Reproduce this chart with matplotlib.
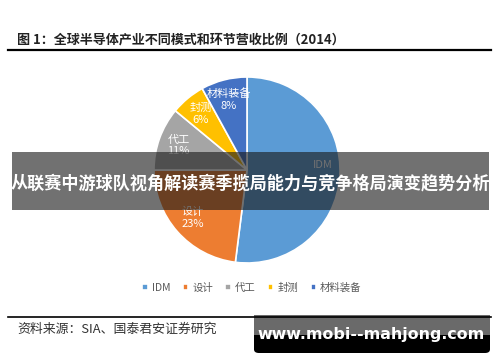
import matplotlib

matplotlib.use("Agg")
import matplotlib.pyplot as plt
from matplotlib.patches import FancyBboxPatch, Rectangle

plt.rcParams["font.family"] = ["Noto Sans CJK SC", "DejaVu Sans"]

W, H = 500, 362

# data
segments = ["IDM", "设计", "代工", "封测", "材料装备"]
shares = [52, 23, 11, 6, 8]
colors = ["#5b9bd5", "#ed7d31", "#a5a5a5", "#ffc000", "#4472c4"]

title = "图 1：全球半导体产业不同模式和环节营收比例（2014）"
source = "资料来源：SIA、国泰君安证券研究"
banner = "从联赛中游球队视角解读赛季揽局能力与竞争格局演变趋势分析"
watermark = "www.mobi--mahjong.com"


def px(x, y):
    return x / W, 1 - y / H


fig = plt.figure(figsize=(W / 100, H / 100), dpi=100)
fig.patch.set_facecolor("white")

# title and rules
fig.text(*px(17, 40), title, fontsize=9.4, fontweight="bold", color="#222222", va="center")
fig.add_artist(plt.Line2D([8 / W, 491 / W], [1 - 50 / H] * 2, color="black", lw=1.6))
fig.add_artist(plt.Line2D([8 / W, 491 / W], [1 - 317 / H] * 2, color="black", lw=1.2))
fig.text(*px(17, 329), source, fontsize=9.3, color="#333333", va="center")

# pie
cx, cy, r = 247, 170, 93
ax = fig.add_axes([(cx - r) / W, (H - cy - r) / H, 2 * r / W, 2 * r / H])
# IDM percentage sits under the banner in the reference, only its name shows
labels = ["IDM"] + [f"{s}\n{v}%" for s, v in zip(segments[1:], shares[1:])]
wedges, texts = ax.pie(
    shares,
    colors=colors,
    startangle=90,
    counterclock=False,
    labels=labels,
    labeldistance=0.78,
    wedgeprops=dict(edgecolor="white", linewidth=1.2),
    textprops=dict(color="white", fontsize=8, linespacing=1.2),
)
for t in texts:
    t.set_ha("center")
    t.set_va("center")
# lift the IDM name clear of the banner caption
texts[0].set_position((0.82, 0.05))
ax.set_xlim(-1, 1)
ax.set_ylim(-1, 1)
ax.set_aspect("equal")

# legend
lg = fig.legend(
    wedges,
    segments,
    loc="center",
    bbox_to_anchor=px(252, 288),
    ncol=5,
    frameon=False,
    fontsize=7.5,
    handlelength=0.5,
    handleheight=0.5,
    handletextpad=0.4,
    columnspacing=1.2,
)
for t in lg.get_texts():
    t.set_color("#595959")

# overlay banner
fig.add_artist(Rectangle(px(12, 210), 477 / W, 58 / H, facecolor="#1a1a1a", alpha=0.62,
                         edgecolor="none", transform=fig.transFigure))
fig.text(*px(250, 183), banner, fontsize=12.3, fontweight="bold", color="white",
         ha="center", va="center")

# watermark box
fig.add_artist(FancyBboxPatch(px(254, 353), 236 / W, 38 / H, boxstyle="round,pad=0,rounding_size=0.01",
                              facecolor="black", edgecolor="none", transform=fig.transFigure))
fig.add_artist(Rectangle(px(254, 335), 236 / W, 20 / H, facecolor="#6a6a6a",
                         edgecolor="none", transform=fig.transFigure))
fig.text(*px(371, 335), watermark, fontsize=11.4, fontweight="bold", color="white",
         ha="center", va="center", family="DejaVu Sans")

fig.savefig("out.png", dpi=100)
plt.close(fig)
